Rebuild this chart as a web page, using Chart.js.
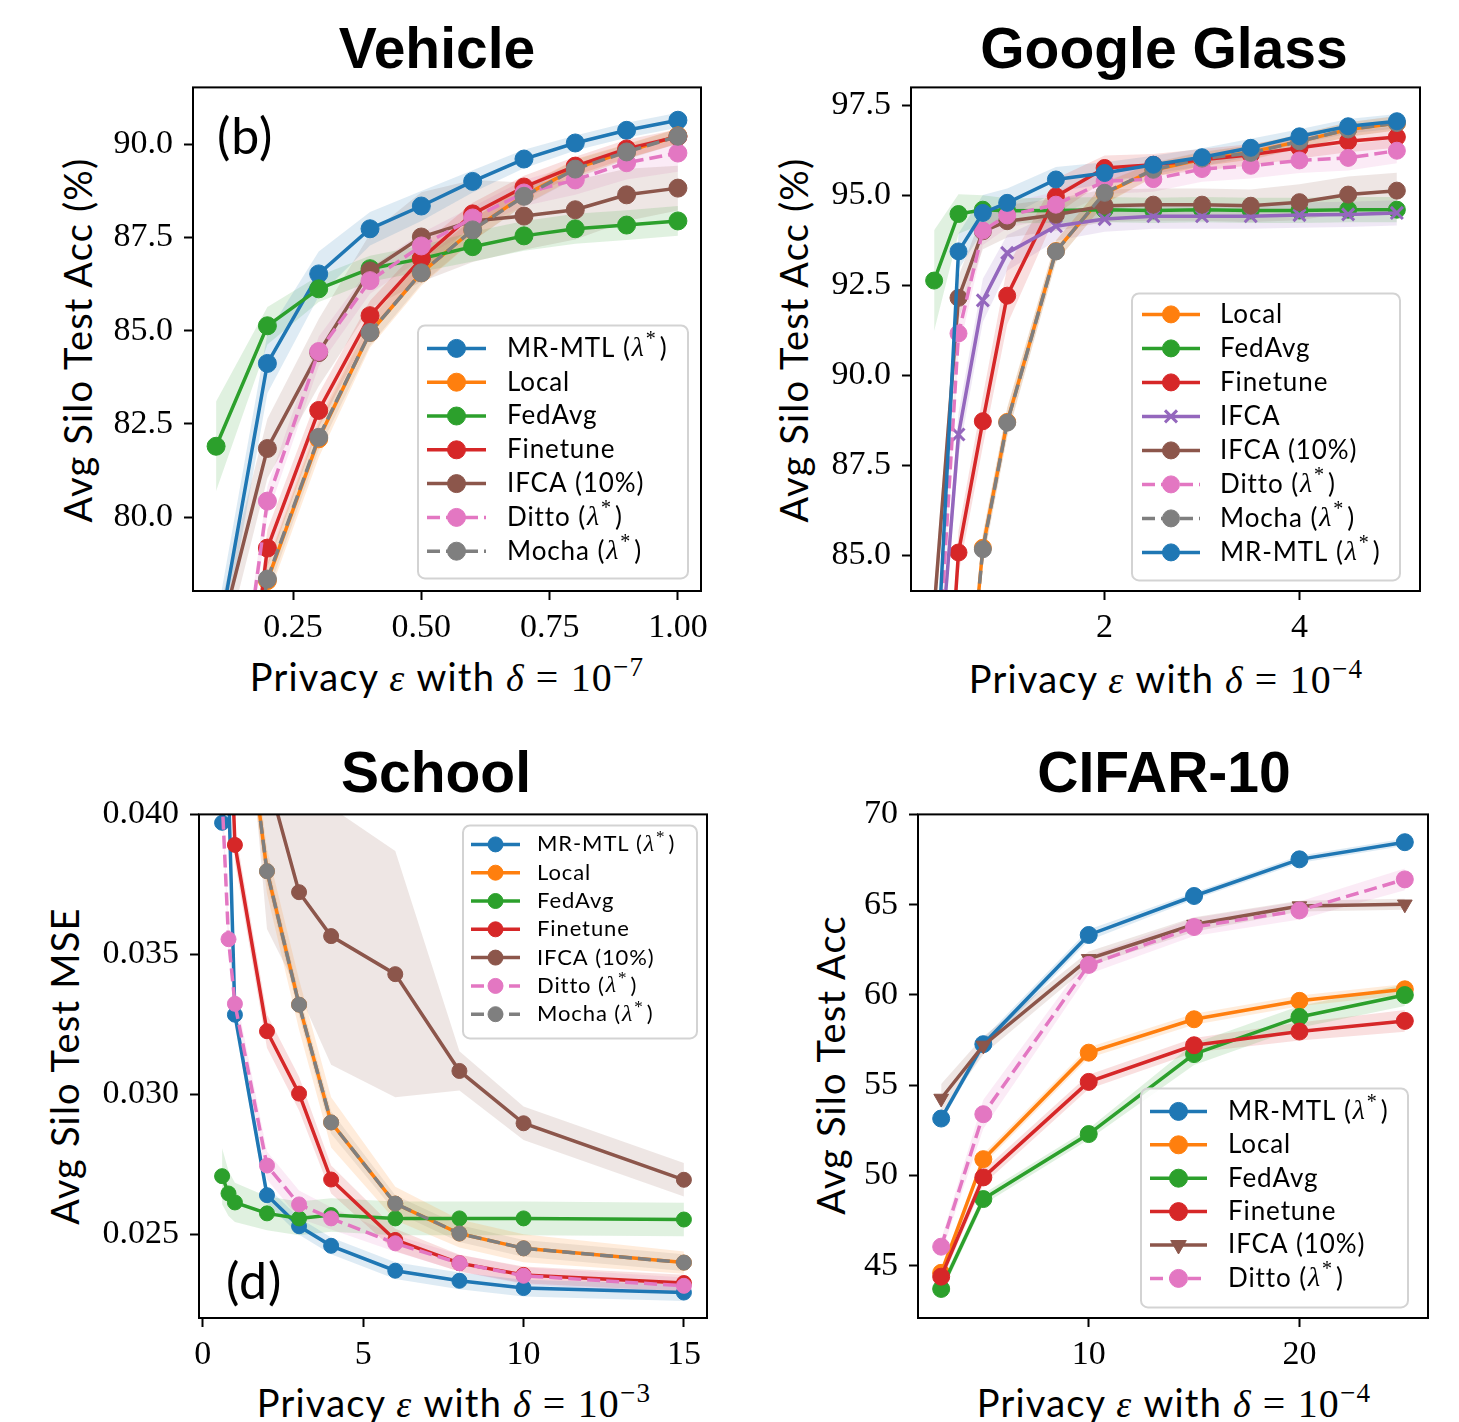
<!DOCTYPE html>
<html>
<head>
<meta charset="utf-8">
<script src="https://cdn.jsdelivr.net/npm/chart.js@4.4.0/dist/chart.umd.min.js"></script>
<style>
  body { margin: 0; background: #fff; width: 1459px; height: 1422px; position: relative; overflow: hidden; }
  .title { position: absolute; font: bold 57px "Liberation Sans", Arial, sans-serif; transform: translate(-50%, -50%); white-space: nowrap; line-height: 1; }
  .xl { position: absolute; font: 38px Lato, sans-serif; letter-spacing: 1.2px; transform: translate(-50%, -50%); white-space: nowrap; line-height: 1; }
  .yl { position: absolute; font: 38px Lato, sans-serif; letter-spacing: 1.2px; transform: translate(-50%, -50%) rotate(-90deg); white-space: nowrap; line-height: 1; }
  .g { font-family: "Liberation Serif", serif; font-style: italic; }
  .m { font-family: "Liberation Serif", serif; font-size: 1.05em; }
  sup { font-size: 0.68em; vertical-align: 0.55em; line-height: 0; }
  .tag { position: absolute; font: 50px Lato, sans-serif; letter-spacing: 1px; transform: translateY(-50%); line-height: 1; }
</style>
</head>
<body>

<div class="title" style="left:437px;top:48px">Vehicle</div>
<div class="title" style="left:1164px;top:48px">Google Glass</div>
<div class="title" style="left:436px;top:772px">School</div>
<div class="title" style="left:1164px;top:772px">CIFAR-10</div>

<div class="yl" style="left:77px;top:340px">Avg Silo Test Acc (%)</div>
<div class="yl" style="left:793px;top:340px">Avg Silo Test Acc (%)</div>
<div class="yl" style="left:64px;top:1066px">Avg Silo Test MSE</div>
<div class="yl" style="left:830px;top:1065px">Avg Silo Test Acc</div>

<div class="xl" style="left:447px;top:677px">Privacy <span class="g">ε</span> with <span class="g">δ</span> <span class="m">= 10<sup>−7</sup></span></div>
<div class="xl" style="left:1166px;top:679px">Privacy <span class="g">ε</span> with <span class="g">δ</span> <span class="m">= 10<sup>−4</sup></span></div>
<div class="xl" style="left:454px;top:1403px">Privacy <span class="g">ε</span> with <span class="g">δ</span> <span class="m">= 10<sup>−3</sup></span></div>
<div class="xl" style="left:1174px;top:1403px">Privacy <span class="g">ε</span> with <span class="g">δ</span> <span class="m">= 10<sup>−4</sup></span></div>

<div class="tag" style="left:217px;top:135px">(b)</div>
<div class="tag" style="left:226px;top:1280px">(d)</div>

<script>
// ---------- Vehicle ----------
const vehX = [0.1, 0.2, 0.3, 0.4, 0.5, 0.6, 0.7, 0.8, 0.9, 1.0];
const vehMR = [76.4, 84.12, 86.52, 87.73, 88.34, 89.0, 89.6, 90.03, 90.37, 90.64];
const vehLocal = [70.3, 78.3, 82.1, 84.95, 86.55, 87.7, 88.62, 89.35, 89.8, 90.22];
const vehFedAvg = [81.9, 85.13, 86.12, 86.66, 86.93, 87.25, 87.54, 87.73, 87.83, 87.94];
const vehFinetune = [68.0, 79.17, 82.86, 85.4, 86.93, 88.13, 88.85, 89.41, 89.87, 90.2];
const vehIfca10 = [76.4, 81.84, 84.41, 86.6, 87.51, 87.94, 88.07, 88.24, 88.64, 88.82];
const vehDitto = [70.4, 80.43, 84.44, 86.34, 87.27, 88.02, 88.69, 89.04, 89.5, 89.76];
const vehMocha = [70.3, 78.34, 82.14, 84.95, 86.55, 87.7, 88.6, 89.33, 89.79, 90.21];
// spread of the shaded bands
const vehMRsd = [0.8, 0.8, 0.6, 0.45, 0.4, 0.3, 0.25, 0.2, 0.2, 0.2];
const vehLocalSd = [0.5, 0.5, 0.5, 0.4, 0.35, 0.3, 0.25, 0.25, 0.2, 0.2];
const vehFedAvgSd = [1.2, 0.5, 0.35, 0.35, 0.35, 0.4, 0.4, 0.4, 0.4, 0.4];
const vehFinetuneSd = [0.5, 0.5, 0.45, 0.4, 0.35, 0.3, 0.3, 0.25, 0.25, 0.2];
const vehIfca10Sd = [0.8, 0.8, 0.9, 1.0, 1.2, 1.1, 0.9, 0.8, 0.7, 0.6];
const vehDittoSd = [0.4, 0.4, 0.4, 0.35, 0.35, 0.3, 0.35, 0.4, 0.45, 0.5];
const vehMochaSd = [0.4, 0.4, 0.35, 0.35, 0.3, 0.3, 0.25, 0.25, 0.2, 0.2];
const vehXTicks = [0.25, 0.5, 0.75, 1.0];
const vehYTicks = [80.0, 82.5, 85.0, 87.5, 90.0];

// ---------- Google Glass ----------
const ggX = [0.25, 0.5, 0.75, 1, 1.5, 2, 2.5, 3, 3.5, 4, 4.5, 5];
const ggLocal = [70, 78, 85.2, 88.7, 93.45, 95.05, 95.7, 96.0, 96.2, 96.5, 96.83, 97.0];
const ggFedAvg = [92.63, 94.48, 94.6, 94.57, 94.58, 94.6, 94.58, 94.6, 94.58, 94.58, 94.6, 94.6];
const ggFinetune = [75, 85.07, 88.72, 92.21, 94.97, 95.76, 95.85, 95.99, 96.13, 96.32, 96.5, 96.62];
const ggIfca = [80, 88.35, 92.08, 93.4, 94.14, 94.34, 94.42, 94.42, 94.42, 94.45, 94.47, 94.51];
const ggIfca10 = [83.5, 92.15, 94.0, 94.28, 94.46, 94.71, 94.74, 94.74, 94.71, 94.81, 95.02, 95.13];
const ggDitto = [80, 91.16, 94.02, 94.44, 94.74, 95.39, 95.45, 95.73, 95.82, 95.97, 96.04, 96.24];
const ggMocha = [70, 78, 85.16, 88.68, 93.44, 95.07, 95.71, 96.02, 96.18, 96.5, 96.83, 97.01];
const ggMR = [80.4, 93.44, 94.51, 94.79, 95.44, 95.62, 95.85, 96.06, 96.32, 96.64, 96.92, 97.06];
const ggLocalSd = [0.3, 0.3, 0.4, 0.4, 0.3, 0.3, 0.2, 0.2, 0.2, 0.2, 0.2, 0.2];
const ggFedAvgSd = [1.4, 0.55, 0.4, 0.35, 0.35, 0.35, 0.35, 0.35, 0.35, 0.35, 0.35, 0.35];
const ggFinetuneSd = [0.5, 0.6, 0.7, 0.8, 0.5, 0.35, 0.3, 0.3, 0.3, 0.3, 0.3, 0.3];
const ggIfcaSd = [0.5, 0.6, 0.6, 0.5, 0.4, 0.35, 0.35, 0.35, 0.35, 0.35, 0.35, 0.35];
const ggIfca10Sd = [0.6, 0.6, 0.5, 0.45, 0.45, 0.45, 0.45, 0.45, 0.45, 0.5, 0.5, 0.5];
const ggDittoSd = [0.4, 0.5, 0.4, 0.35, 0.35, 0.35, 0.35, 0.35, 0.35, 0.35, 0.35, 0.35];
const ggMochaSd = [0.3, 0.3, 0.4, 0.4, 0.3, 0.3, 0.2, 0.2, 0.2, 0.2, 0.2, 0.2];
const ggMRsd = [0.5, 0.5, 0.5, 0.4, 0.35, 0.3, 0.25, 0.25, 0.25, 0.2, 0.2, 0.2];
const ggXTicks = [2, 4];
const ggYTicks = [85.0, 87.5, 90.0, 92.5, 95.0, 97.5];

// ---------- School ----------
const scX = [0.6, 0.8, 1, 2, 3, 4, 6, 8, 10, 15];
const scMR = [0.0397, 0.0410, 0.03284, 0.02639, 0.02528, 0.02458, 0.02369, 0.02333, 0.02307, 0.02291];
const scLocal = [0.056, 0.052, 0.0469, 0.03797, 0.0332, 0.02899, 0.02609, 0.02502, 0.02449, 0.02398];
const scFedAvg = [0.02707, 0.02645, 0.02613, 0.02574, 0.02556, 0.02568, 0.02556, 0.02556, 0.02556, 0.02552];
const scFinetune = [0.050, 0.0452, 0.03891, 0.03225, 0.03002, 0.02695, 0.02479, 0.02396, 0.02354, 0.02325];
const scIfca10 = [0.070, 0.060, 0.055, 0.0414, 0.03722, 0.03565, 0.03429, 0.03083, 0.02896, 0.02694];
const scDitto = [0.0406, 0.03554, 0.03323, 0.02745, 0.02606, 0.02556, 0.02467, 0.02396, 0.02351, 0.02315];
const scMocha = [0.056, 0.052, 0.0469, 0.03797, 0.0332, 0.02899, 0.02609, 0.02502, 0.02449, 0.02398];
const scMRsd = [0.0004, 0.0004, 0.0004, 0.0003, 0.0003, 0.0003, 0.0003, 0.0003, 0.0003, 0.0003];
const scLocalSd = [0.0008, 0.0008, 0.0008, 0.0008, 0.0009, 0.0009, 0.0006, 0.0005, 0.0005, 0.0004];
const scFedAvgSd = [0.0010, 0.0008, 0.0007, 0.0006, 0.0006, 0.0006, 0.0006, 0.0006, 0.0006, 0.0006];
const scFinetuneSd = [0.0006, 0.0006, 0.0006, 0.0006, 0.0006, 0.0005, 0.0004, 0.0003, 0.0003, 0.0003];
const scIfca10Sd = [0.006, 0.006, 0.006, 0.0055, 0.0036, 0.0046, 0.0044, 0.0007, 0.0006, 0.0006];
const scDittoSd = [0.0005, 0.0005, 0.0005, 0.0005, 0.0005, 0.0004, 0.0003, 0.0003, 0.0003, 0.0003];
const scMochaSd = [0.0004, 0.0004, 0.0004, 0.0004, 0.0004, 0.0004, 0.0003, 0.0003, 0.0003, 0.0003];
const scXTicks = [0, 5, 10, 15];
const scYTicks = [0.025, 0.030, 0.035, 0.040];

// ---------- CIFAR-10 ----------
const cfX = [3, 5, 10, 15, 20, 25];
const cfMR = [53.15, 57.27, 63.32, 65.48, 67.51, 68.46];
const cfLocal = [44.6, 50.9, 56.8, 58.65, 59.67, 60.31];
const cfFedAvg = [43.71, 48.69, 52.29, 56.72, 58.78, 59.99];
const cfFinetune = [44.39, 49.89, 55.18, 57.21, 57.97, 58.56];
const cfIfca10 = [54.26, 57.2, 62.0, 63.9, 64.92, 65.02];
const cfDitto = [46.05, 53.39, 61.66, 63.76, 64.68, 66.4];
const cfMRsd = [0.2, 0.3, 0.3, 0.2, 0.2, 0.2];
const cfLocalSd = [0.3, 0.3, 0.3, 0.3, 0.3, 0.3];
const cfFedAvgSd = [0.3, 0.3, 0.3, 0.6, 0.6, 0.6];
const cfFinetuneSd = [0.3, 0.4, 0.4, 0.4, 0.5, 0.6];
const cfIfca10Sd = [0.8, 0.5, 0.4, 0.4, 0.3, 0.3];
const cfDittoSd = [0.4, 0.8, 0.5, 0.5, 0.5, 0.6];
const cfXTicks = [10, 20];
const cfYTicks = [45, 50, 55, 60, 65, 70];

// matplotlib tab10 colours per method
const styles = {
  mr:       { label: 'MR-MTL (λ*)', color: '#1f77b4' },
  local:    { label: 'Local',       color: '#ff7f0e' },
  fedavg:   { label: 'FedAvg',      color: '#2ca02c' },
  finetune: { label: 'Finetune',    color: '#d62728' },
  ifca:     { label: 'IFCA',        color: '#9467bd', marker: 'crossRot' },
  ifca10:   { label: 'IFCA (10%)',  color: '#8c564b' },
  ditto:    { label: 'Ditto (λ*)',  color: '#e377c2', dash: [13, 6] },
  mocha:    { label: 'Mocha (λ*)',  color: '#7f7f7f', dash: [13, 6] }
};

const Y_AXIS_W = 130, X_AXIS_H = 70, PAD_T = 30, PAD_R = 40;

function fade(hex, a) {
  const n = parseInt(hex.slice(1), 16);
  return `rgba(${n >> 16},${(n >> 8) & 255},${n & 255},${a})`;
}
function toXY(xs, ys) { return xs.map((x, i) => ({ x: x, y: ys[i] })); }
function shift(ys, sd, sign) { return ys.map((y, i) => y + sign * sd[i]); }

// label like "MR-MTL (λ*)" with an italic serif lambda and a raised star
function drawLabel(ctx, text, x, y, size) {
  ctx.fillStyle = '#000';
  ctx.textAlign = 'left';
  ctx.textBaseline = 'middle';
  ctx.letterSpacing = '0.9px';
  const parts = text.split('λ*');
  ctx.font = `${size}px Lato`;
  ctx.fillText(parts[0], x, y);
  if (parts.length < 2) return;
  x += ctx.measureText(parts[0]).width + 1;
  ctx.font = `italic ${size + 2}px "Liberation Serif"`;
  ctx.fillText('λ', x, y);
  x += ctx.measureText('λ').width + 1;
  ctx.font = `${Math.round(size * 0.75)}px "Liberation Serif"`;
  ctx.fillText('*', x, y - size * 0.32);
  x += ctx.measureText('*').width + 3;
  ctx.font = `${size}px Lato`;
  ctx.fillText(parts[1], x, y);
}

const framePlugin = {
  id: 'frame',
  afterDatasetsDraw(chart) {
    const { ctx, chartArea: a } = chart;
    ctx.save();
    ctx.strokeStyle = '#000';
    ctx.lineWidth = 2;
    ctx.strokeRect(a.left, a.top, a.right - a.left, a.bottom - a.top);
    ctx.restore();
  }
};

const legendPlugin = {
  id: 'mplLegend',
  afterDatasetsDraw(chart, args, o) {
    const { ctx, chartArea } = chart;
    const x0 = chartArea.left + o.left, y0 = chartArea.top + o.top;
    ctx.save();
    ctx.beginPath();
    ctx.roundRect(x0, y0, o.w, o.h, 7);
    ctx.fillStyle = 'rgba(255,255,255,0.85)';
    ctx.fill();
    ctx.strokeStyle = '#d3d3d3';
    ctx.lineWidth = 2;
    ctx.stroke();
    o.items.forEach((it, i) => {
      const cy = y0 + o.first + i * o.step;
      ctx.beginPath();
      ctx.setLineDash(it.dash || []);
      ctx.strokeStyle = it.color;
      ctx.lineWidth = 3.5;
      ctx.moveTo(x0 + o.l1, cy);
      ctx.lineTo(x0 + o.l2, cy);
      ctx.stroke();
      ctx.setLineDash([]);
      ctx.fillStyle = it.color;
      ctx.lineWidth = it.marker === 'crossRot' ? 3 : 1;
      Chart.helpers.drawPoint(ctx, {
        pointStyle: it.marker || 'circle', rotation: it.rotation || 0,
        radius: o.r, borderWidth: ctx.lineWidth
      }, x0 + (o.l1 + o.l2) / 2, cy);
      drawLabel(ctx, it.label, x0 + o.tx, cy, o.size);
    });
    ctx.restore();
  }
};

function buildPanel(p) {
  const W = p.area.w + Y_AXIS_W + PAD_R, H = p.area.h + PAD_T + X_AXIS_H;
  const canvas = document.createElement('canvas');
  canvas.width = W;
  canvas.height = H;
  canvas.style.cssText = `position:absolute;left:${p.area.x - Y_AXIS_W}px;top:${p.area.y - PAD_T}px;width:${W}px;height:${H}px`;
  document.body.appendChild(canvas);

  const datasets = [];
  const items = [];
  p.series.forEach((s, i) => {
    const st = Object.assign({}, styles[s.key], s.extra || {});
    // shaded band: upper filled down to lower
    datasets.push({ data: toXY(p.x, shift(s.y, s.sd, 1)), fill: '+1', backgroundColor: fade(st.color, 0.15),
      borderWidth: 0, pointRadius: 0, order: 100 });
    datasets.push({ data: toXY(p.x, shift(s.y, s.sd, -1)), fill: false, borderWidth: 0, pointRadius: 0, order: 100 });
    datasets.push({
      data: toXY(p.x, s.y),
      borderColor: st.color, backgroundColor: st.color, borderWidth: 3.5, borderDash: st.dash || [],
      pointStyle: st.marker || 'circle', pointRotation: st.rotation || 0, pointRadius: p.r,
      pointBackgroundColor: st.color, pointBorderColor: st.color,
      pointBorderWidth: st.marker === 'crossRot' ? 3 : 1,
      fill: false, tension: 0, order: -i
    });
    items.push({ label: st.label, color: st.color, dash: st.dash, marker: st.marker, rotation: st.rotation });
  });

  const tickFont = { family: 'Liberation Serif', size: 34 };
  const grid = { drawOnChartArea: false, drawTicks: true, tickLength: 9, tickWidth: 2, tickColor: '#000' };

  new Chart(canvas, {
    type: 'line',
    data: { datasets },
    options: {
      responsive: false, animation: false, devicePixelRatio: 1,
      layout: { padding: { top: PAD_T, right: PAD_R, left: 0, bottom: 0 } },
      plugins: { legend: { display: false }, tooltip: { enabled: false }, mplLegend: Object.assign({ items }, p.legend) },
      scales: {
        x: {
          type: 'linear', min: p.xRange[0], max: p.xRange[1],
          afterFit(sc) { sc.height = X_AXIS_H; },
          afterBuildTicks(sc) { sc.ticks = p.xTicks.map(v => ({ value: v })); },
          ticks: { callback: v => v.toFixed(p.xDec), font: tickFont, color: '#000', padding: 8, maxRotation: 0, autoSkip: false },
          grid, border: { display: false }
        },
        y: {
          type: 'linear', min: p.yRange[0], max: p.yRange[1],
          afterFit(sc) { sc.width = Y_AXIS_W; },
          afterBuildTicks(sc) { sc.ticks = p.yTicks.map(v => ({ value: v })); },
          ticks: { callback: v => v.toFixed(p.yDec), font: tickFont, color: '#000', padding: 11, autoSkip: false },
          grid, border: { display: false }
        }
      }
    },
    plugins: [framePlugin, legendPlugin]
  });
}

buildPanel({
  area: { x: 193, y: 86, w: 508, h: 505 }, r: 9,
  x: vehX, xRange: [0.055, 1.045], yRange: [78.02, 91.52], xTicks: vehXTicks, yTicks: vehYTicks, xDec: 2, yDec: 1,
  series: [
    { key: 'mr', y: vehMR, sd: vehMRsd },
    { key: 'local', y: vehLocal, sd: vehLocalSd },
    { key: 'fedavg', y: vehFedAvg, sd: vehFedAvgSd },
    { key: 'finetune', y: vehFinetune, sd: vehFinetuneSd },
    { key: 'ifca10', y: vehIfca10, sd: vehIfca10Sd },
    { key: 'ditto', y: vehDitto, sd: vehDittoSd },
    { key: 'mocha', y: vehMocha, sd: vehMochaSd }
  ],
  legend: { left: 225, top: 238, w: 270, h: 253, first: 23, step: 33.8, l1: 9, l2: 68, tx: 89, size: 26, r: 9 }
});

buildPanel({
  area: { x: 911, y: 86, w: 509, h: 505 }, r: 8.5,
  x: ggX, xRange: [0.0125, 5.2375], yRange: [84.0, 98.0], xTicks: ggXTicks, yTicks: ggYTicks, xDec: 0, yDec: 1,
  series: [
    { key: 'local', y: ggLocal, sd: ggLocalSd },
    { key: 'fedavg', y: ggFedAvg, sd: ggFedAvgSd },
    { key: 'finetune', y: ggFinetune, sd: ggFinetuneSd },
    { key: 'ifca', y: ggIfca, sd: ggIfcaSd },
    { key: 'ifca10', y: ggIfca10, sd: ggIfca10Sd },
    { key: 'ditto', y: ggDitto, sd: ggDittoSd },
    { key: 'mocha', y: ggMocha, sd: ggMochaSd },
    { key: 'mr', y: ggMR, sd: ggMRsd }
  ],
  legend: { left: 221, top: 206, w: 268, h: 287, first: 21, step: 34, l1: 10, l2: 68, tx: 88, size: 26, r: 8.5 }
});

buildPanel({
  area: { x: 199, y: 813, w: 508, h: 505 }, r: 7.5,
  x: scX, xRange: [-0.12, 15.72], yRange: [0.022, 0.040], xTicks: scXTicks, yTicks: scYTicks, xDec: 0, yDec: 3,
  series: [
    { key: 'mr', y: scMR, sd: scMRsd },
    { key: 'local', y: scLocal, sd: scLocalSd },
    { key: 'fedavg', y: scFedAvg, sd: scFedAvgSd },
    { key: 'finetune', y: scFinetune, sd: scFinetuneSd },
    { key: 'ifca10', y: scIfca10, sd: scIfca10Sd },
    { key: 'ditto', y: scDitto, sd: scDittoSd },
    { key: 'mocha', y: scMocha, sd: scMochaSd }
  ],
  legend: { left: 264, top: 11, w: 234, h: 213, first: 19, step: 28.3, l1: 8, l2: 57, tx: 74, size: 22, r: 7.5 }
});

buildPanel({
  area: { x: 918, y: 813, w: 510, h: 505 }, r: 8.5,
  x: cfX, xRange: [1.9, 26.1], yRange: [42.1, 70], xTicks: cfXTicks, yTicks: cfYTicks, xDec: 0, yDec: 0,
  series: [
    { key: 'mr', y: cfMR, sd: cfMRsd },
    { key: 'local', y: cfLocal, sd: cfLocalSd },
    { key: 'fedavg', y: cfFedAvg, sd: cfFedAvgSd },
    { key: 'finetune', y: cfFinetune, sd: cfFinetuneSd },
    { key: 'ifca10', y: cfIfca10, sd: cfIfca10Sd, extra: { marker: 'triangle', rotation: 180 } },
    { key: 'ditto', y: cfDitto, sd: cfDittoSd }
  ],
  legend: { left: 223, top: 274, w: 267, h: 219, first: 23, step: 33.4, l1: 9, l2: 66, tx: 87, size: 26, r: 9 }
});
</script>
</body>
</html>
